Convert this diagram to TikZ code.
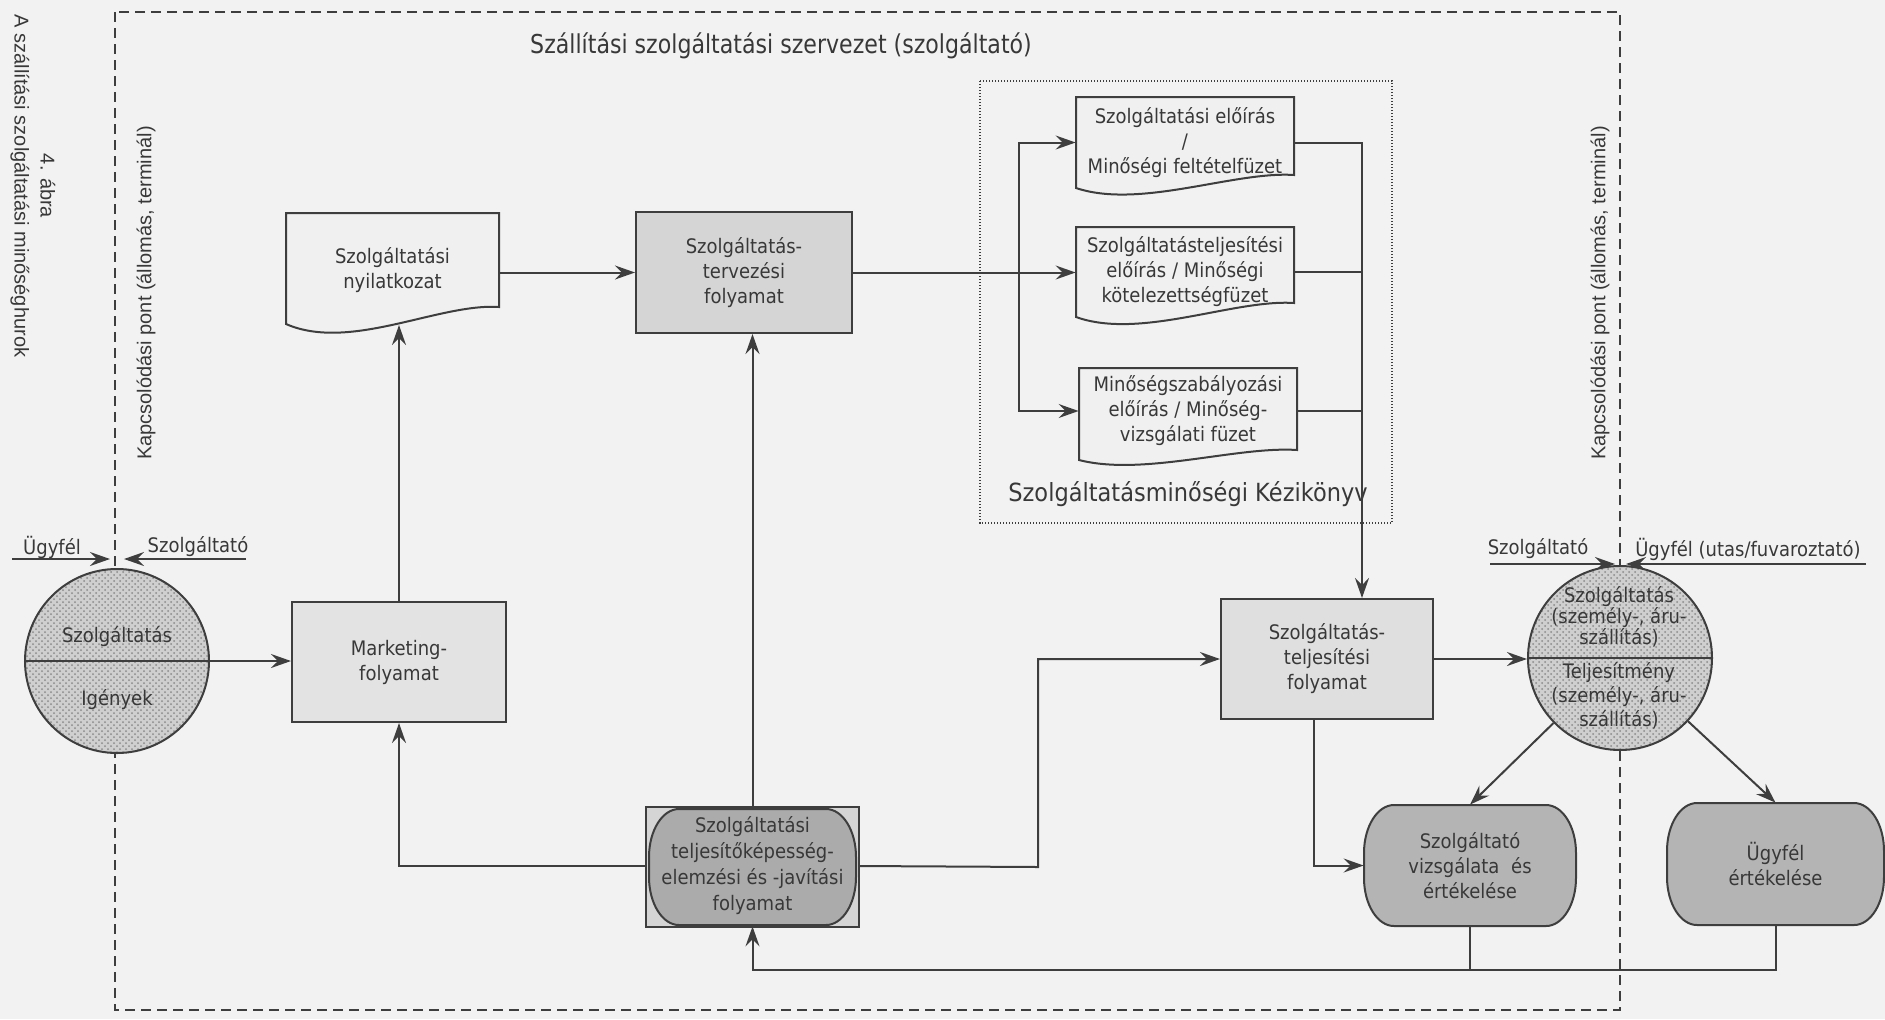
\documentclass[tikz,border=0pt]{standalone}
\usepackage{fontspec}
\setmainfont{DejaVu Sans}[FakeStretch=0.9]
\newfontfamily\titlefont{DejaVu Sans}[FakeStretch=0.85]
\newfontfamily\capfont{Liberation Sans}
\usetikzlibrary{arrows.meta,patterns,calc}

\definecolor{paper}{HTML}{F2F2F2}
\definecolor{ink}{HTML}{383838}
\definecolor{linec}{HTML}{3E3E3E}
\definecolor{boxA}{HTML}{E3E3E3}
\definecolor{boxB}{HTML}{D5D5D5}
\definecolor{boxC}{HTML}{DFDFDF}
\definecolor{docfill}{HTML}{F0F0F0}
\definecolor{darkfill}{HTML}{ABABAB}
\definecolor{evalfill}{HTML}{B4B4B4}
\definecolor{dotfill}{HTML}{CFCFCF}
\definecolor{dotink}{HTML}{8A8A8A}

% document symbol: left, top, right, bottom (right side), wave depth
\newcommand\docshape[6][]{%
  \draw[docline,#1] (#2,#3) -- (#4,#3) -- (#4,#5)
    .. controls +(-60,-4) and +(64,{1.65*#6}) .. (#2,{#5+#6}) -- cycle;}
% terminal symbol with elliptic ends: left, top, right, bottom
\newcommand\termshape[5][]{%
  \draw[docline,#1] ({#2+30},#3) -- ({#4-30},#3)
    arc[start angle=90,end angle=0,x radius=15pt,y radius=24pt]
    -- (#4,{#5-48})
    arc[start angle=0,end angle=-90,x radius=15pt,y radius=24pt]
    -- ({#2+30},#5)
    arc[start angle=-90,end angle=-180,x radius=15pt,y radius=24pt]
    -- (#2,{#3+48})
    arc[start angle=180,end angle=90,x radius=15pt,y radius=24pt]
    -- cycle;}

\begin{document}
\begin{tikzpicture}[x=0.5pt,y=-0.5pt,
  line/.style={draw=linec,line width=1pt},
  arr/.style={line,-{Stealth[length=10pt,width=7pt,inset=3.5pt]}},
  docline/.style={draw=linec,line width=1pt},
  lbl/.style={text=ink,font=\fontsize{10}{12.5}\selectfont,align=center,inner sep=0pt},
  procbox/.style={lbl,draw=linec,line width=1pt},
  ghost/.style={lbl,draw=none},
  dotcirc/.style={circle,minimum size=92pt,inner sep=0pt,draw=linec,line width=1pt,
    preaction={fill=dotfill},pattern=crosshatch dots,pattern color=dotink},
  rot/.style={text=ink,font=\capfont\fontsize{10}{13}\selectfont,align=center,inner sep=0pt}
]
% paper
\fill[paper] (0,0) rectangle (1885,1019);
\useasboundingbox (0,0) rectangle (1885,1019);

% organisation frame and handbook frame
\draw[draw=linec,line width=1pt,dash pattern=on 5pt off 3pt] (115,12) rectangle (1620,1010);
\draw[draw=linec,line width=0.6pt,dash pattern=on 0.7pt off 0.8pt] (980,81) rectangle (1392,523);

% captions
\node[rot,rotate=-90] (cap) at (33,186) {4. ábra\\A szállítási szolgáltatási minőséghurok};
\node[rot,rotate=90] (kapL) at (146,293) {Kapcsolódási pont (állomás, terminál)};
\node[rot,rotate=90] (kapR) at (1600,293) {Kapcsolódási pont (állomás, terminál)};
\node[text=ink,font=\titlefont\fontsize{13}{15}\selectfont,inner sep=0pt] (title) at (781,46)
  {Szállítási szolgáltatási szervezet (szolgáltató)};
\node[text=ink,font=\fontsize{12.5}{15}\selectfont,inner sep=0pt] (hb) at (1188,494)
  {Szolgáltatásminőségi Kézikönyv};

% interface labels
\node[lbl] (uL) at (52,547) {Ügyfél};
\node[lbl] (sL) at (198,547) {Szolgáltató};
\node[lbl] (sR) at (1538,549) {Szolgáltató};
\node[lbl] (uR) at (1748,549) {Ügyfél (utas/fuvaroztató)};
\coordinate (aL1s) at (12,559);  \coordinate (aL1e) at (110,559);
\coordinate (aL2s) at (246,559); \coordinate (aL2e) at (124,559);
\coordinate (aR1s) at (1490,564); \coordinate (aR1e) at (1615,564);
\coordinate (aR2s) at (1866,564); \coordinate (aR2e) at (1626,564);
\draw[arr] (aL1s) -- (aL1e);
\draw[arr] (aL2s) -- (aL2e);
\draw[arr] (aR1s) -- (aR1e);
\draw[arr] (aR2s) -- (aR2e);

% customer circles
\node[dotcirc] (circL) at (117,661) {};
\draw[line] (circL.west) -- (circL.east);
\node[lbl] (circLtop) at (117,637) {Szolgáltatás};
\node[lbl] (circLbot) at (117,700) {Igények};

\node[dotcirc] (circR) at (1620,658) {};
\draw[line] (circR.west) -- (circR.east);
\node[lbl,font=\fontsize{10}{10.5}\selectfont] (circRtop) at (1619,617)
  {Szolgáltatás\\(személy-, áru-\\szállítás)};
\node[lbl,font=\fontsize{10}{12}\selectfont] (circRbot) at (1619,696)
  {Teljesítmény\\(személy-, áru-\\szállítás)};

% process boxes
\node[procbox,fill=boxA,minimum width=107pt,minimum height=60pt] (mkt) at (399,662)
  {Marketing-\\folyamat};
\node[procbox,fill=boxB,minimum width=108pt,minimum height=60.5pt] (terv) at (744,272.5)
  {Szolgáltatás-\\tervezési\\folyamat};
\node[procbox,fill=boxC,minimum width=106pt,minimum height=60pt] (telj) at (1327,659)
  {Szolgáltatás-\\teljesítési\\folyamat};

% documents
\docshape[fill=docfill]{286}{213}{499}{307}{17}
\node[ghost,minimum width=106.5pt,minimum height=55.5pt] (nyil) at (392.5,270)
  {Szolgáltatási\\nyilatkozat};
\docshape[fill=docfill]{1076}{97}{1294}{175}{13}
\node[ghost,minimum width=109pt,minimum height=45.5pt] (doc1) at (1185,142.5)
  {Szolgáltatási előírás\\/\\Minőségi feltételfüzet};
\docshape[fill=docfill]{1076}{227}{1294}{303}{14}
\node[ghost,minimum width=109pt,minimum height=45pt] (doc2) at (1185,272)
  {Szolgáltatásteljesítési\\előírás / Minőségi\\kötelezettségfüzet};
\docshape[fill=docfill]{1079}{368}{1297}{450}{10}
\node[ghost,minimum width=109pt,minimum height=46pt] (doc3) at (1188,411)
  {Minőségszabályozási\\előírás / Minőség-\\vizsgálati füzet};

% improvement process
\node[procbox,fill=boxB,minimum width=106.5pt,minimum height=60pt] (elembox) at (752.5,867) {};
\termshape[fill=darkfill]{649}{809}{856}{925}
\node[ghost,font=\fontsize{10}{13}\selectfont,minimum width=106.5pt,minimum height=60pt] (elem) at (752.5,866)
  {Szolgáltatási\\teljesítőképesség-\\elemzési és -javítási\\folyamat};

% evaluations
\termshape[fill=evalfill]{1364}{805}{1576}{926}
\node[ghost,minimum width=106pt,minimum height=60.5pt] (vizs) at (1470,865.5)
  {Szolgáltató\\vizsgálata\hspace{3pt} és\\értékelése};
\termshape[fill=evalfill]{1667}{803}{1884}{925}
\node[ghost,minimum width=108.5pt,minimum height=61pt] (ugy) at (1775.5,864)
  {Ügyfél\\értékelése};

% connectors
\coordinate (nyilbot) at (399,325);
\coordinate (br) at (1019,272.5);
\coordinate (colx) at (1362,146);
\coordinate (bendA) at (1038,867);
\coordinate (fbline) at (0,970);

\draw[arr] (circL.east) -- (circL.east -| mkt.west);
\draw[arr] (mkt.north) -- (mkt.north |- nyilbot);
\draw[arr] (nyil.east |- terv.west) -- (terv.west);
\draw[arr] (terv.east) -- (terv.east -| doc2.west);
\draw[arr] (br) |- (doc1.west);
\draw[arr] (br) |- (doc3.west);
\draw[arr] (doc1.east) -| (colx |- telj.north);
\draw[line] (doc2.east) -- (doc2.east -| colx);
\draw[line] (doc3.east) -- (doc3.east -| colx);
\draw[arr] (elem.north) -- (elem.north |- terv.south);
\draw[arr] (elem.west) -| (mkt.south);
\draw[arr] (elem.east) -- (bendA) |- (telj.west);
\draw[arr] (telj.east) -- (telj.east -| circR.west);
\draw[arr] ([xshift=-6.5pt]telj.south) |- (vizs.west);
\draw[arr] (circR) -- (vizs.north);
\draw[arr] (circR) -- (ugy.north);
\draw[line] (vizs.south) -- (vizs.south |- fbline);
\draw[arr] (ugy.south) -- (ugy.south |- fbline) -| (elem.south);
\end{tikzpicture}
\end{document}
